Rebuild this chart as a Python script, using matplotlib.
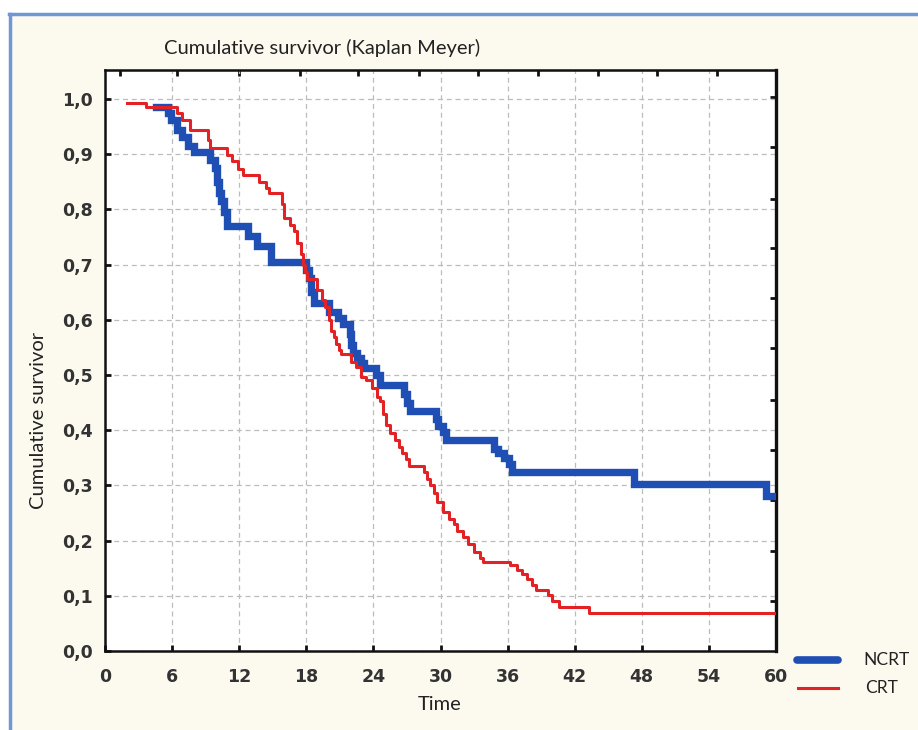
import matplotlib
matplotlib.use("Agg")
import matplotlib.pyplot as plt
from matplotlib.lines import Line2D
from matplotlib.ticker import FuncFormatter

# Kaplan-Meier step points (time in months, survival after the step)
ncrt_time = [4.6, 5.6, 5.9, 6.4, 6.9, 7.4, 8.0, 9.4, 9.8, 10.0, 10.2, 10.4, 10.6, 10.9,
             12.8, 13.6, 14.8, 18.0, 18.2, 18.4, 18.7, 20.0, 20.8, 21.3, 21.9, 22.0,
             22.2, 22.5, 22.9, 23.2, 24.2, 24.6, 26.7, 27.0, 27.3, 29.6, 29.8, 30.2,
             30.5, 34.8, 35.1, 35.7, 36.1, 36.4, 47.3, 59.1, 60.0]
ncrt_surv = [0.986, 0.974, 0.962, 0.944, 0.932, 0.914, 0.904, 0.890, 0.875, 0.850, 0.830,
             0.815, 0.795, 0.770, 0.752, 0.734, 0.705, 0.690, 0.675, 0.650, 0.630, 0.615,
             0.603, 0.592, 0.575, 0.555, 0.540, 0.530, 0.521, 0.512, 0.500, 0.482, 0.465,
             0.450, 0.434, 0.420, 0.408, 0.397, 0.382, 0.366, 0.358, 0.350, 0.338, 0.325,
             0.302, 0.281, 0.281]

crt_time = [2.0, 3.7, 6.4, 6.9, 7.6, 9.2, 9.4, 10.9, 11.4, 11.9, 12.3, 13.8, 14.4, 14.7,
            15.8, 16.0, 16.5, 16.9, 17.2, 17.5, 17.7, 17.9, 18.1, 19.0, 19.4, 19.7, 20.0,
            20.2, 20.5, 20.7, 20.9, 21.1, 22.0, 22.4, 22.9, 23.3, 23.9, 24.3, 24.6, 24.9,
            25.1, 25.5, 25.9, 26.3, 26.6, 26.9, 27.2, 28.5, 28.8, 29.1, 29.4, 29.7, 30.2,
            30.8, 31.2, 31.5, 32.0, 32.5, 33.0, 33.5, 33.8, 36.2, 36.8, 37.3, 37.7, 38.2,
            38.5, 39.6, 40.0, 40.6, 43.3, 60.0]
crt_surv = [0.993, 0.986, 0.974, 0.962, 0.944, 0.926, 0.911, 0.899, 0.887, 0.874, 0.862,
            0.850, 0.838, 0.830, 0.810, 0.785, 0.772, 0.760, 0.740, 0.720, 0.700, 0.686,
            0.674, 0.654, 0.636, 0.624, 0.600, 0.580, 0.569, 0.557, 0.545, 0.538, 0.524,
            0.515, 0.497, 0.491, 0.476, 0.461, 0.452, 0.430, 0.410, 0.395, 0.382, 0.370,
            0.358, 0.348, 0.335, 0.325, 0.312, 0.300, 0.287, 0.270, 0.252, 0.240, 0.230,
            0.218, 0.207, 0.194, 0.180, 0.168, 0.162, 0.155, 0.147, 0.140, 0.130, 0.120,
            0.110, 0.102, 0.090, 0.080, 0.068, 0.068]

x_ticks = [0, 6, 12, 18, 24, 30, 36, 42, 48, 54, 60]
y_ticks = [0.0, 0.1, 0.2, 0.3, 0.4, 0.5, 0.6, 0.7, 0.8, 0.9, 1.0]
# odd tick marks STATISTICA leaves on the top and right frame
top_ticks = [1.34, 6.44, 11.98, 17.44, 22.62, 28.08, 33.35, 38.72, 44.08, 49.35, 54.72]
right_ticks = [0.091, 0.181, 0.274, 0.364, 0.455, 0.549, 0.639, 0.730, 0.819, 0.913, 1.004]

bg = "#fcf9ee"
blue = "#1f4fb4"
red = "#e32226"
txt = "#333333"

fig = plt.figure(figsize=(9.18, 7.30), dpi=100, facecolor=bg)
ax = fig.add_axes([105/918, 79/730, 671/918, 581/730])
ax.set_facecolor("white")

ax.plot(ncrt_time, ncrt_surv, drawstyle="steps-post", color=blue, lw=5.3,
        solid_joinstyle="miter", zorder=3)
ax.plot(crt_time, crt_surv, drawstyle="steps-post", color=red, lw=2.2, zorder=4)

ax.set_xlim(0, 60)
ax.set_ylim(0, 1.0525)
ax.set_xticks(x_ticks)
ax.set_yticks(y_ticks)
ax.yaxis.set_major_formatter(FuncFormatter(lambda v, p: f"{v:.1f}".replace(".", ",")))
ax.grid(True, color="#bcbcbc", linestyle=(0, (4, 3)), linewidth=0.9)
ax.tick_params(direction="in", length=4, width=2, color="#111111", labelsize=12.5,
               labelcolor=txt)
ax.tick_params(axis="x", pad=12)
ax.tick_params(axis="y", pad=9)
for lab in ax.get_xticklabels() + ax.get_yticklabels():
    lab.set_fontweight("bold")
for side in ["left", "bottom", "top", "right"]:
    ax.spines[side].set_color("#111111")
    ax.spines[side].set_linewidth(1.8)
ax.spines["right"].set_linewidth(2.4)

top = ax.secondary_xaxis("top")
top.set_ticks(top_ticks)
top.tick_params(direction="in", length=4, width=2, color="#111111", labeltop=False)
right = ax.secondary_yaxis("right")
right.set_ticks(right_ticks)
right.tick_params(direction="in", length=4, width=2, color="#111111", labelright=False)

ax.set_xlabel("Time", family="Lato", fontsize=14.5, color="#222222")
ax.set_ylabel("Cumulative survivor", family="Lato", fontsize=14.5, color="#222222")
ax.xaxis.set_label_coords(335/671, -45/581)
ax.yaxis.set_label_coords(-58/671, 0.396)

fig.text(322/918, 1 - 48/730, "Cumulative survivor (Kaplan Meyer)", family="Lato",
         fontsize=14.5, color="#222222", ha="center", va="center")

# legend drawn to the right of the frame
fig.add_artist(Line2D([797/918, 838/918], [1 - 660/730, 1 - 660/730], color=blue, lw=5.5,
                      solid_capstyle="round"))
fig.add_artist(Line2D([798/918, 838/918], [1 - 688/730, 1 - 688/730], color=red, lw=2.2))
fig.text(863/918, 1 - 660/730, "NCRT", family="Lato", fontsize=12.5, color="#222222",
         va="center")
fig.text(865/918, 1 - 688/730, "CRT", family="Lato", fontsize=12.5, color="#222222",
         va="center")

# blue frame of the screenshot (top and left edges)
fig.add_artist(Line2D([9/918, 1], [1 - 14/730, 1 - 14/730], color="#6f97d6", lw=2.5))
fig.add_artist(Line2D([10/918, 10/918], [0, 1 - 14/730], color="#6f97d6", lw=2.5))
fig.add_artist(plt.Rectangle((0, 1 - 13/730), 1, 13/730, transform=fig.transFigure,
                             color="white", zorder=-1))
fig.add_artist(plt.Rectangle((0, 0), 9/918, 1, transform=fig.transFigure,
                             color="white", zorder=-1))

fig.savefig("out.png", dpi=100, facecolor=bg)
